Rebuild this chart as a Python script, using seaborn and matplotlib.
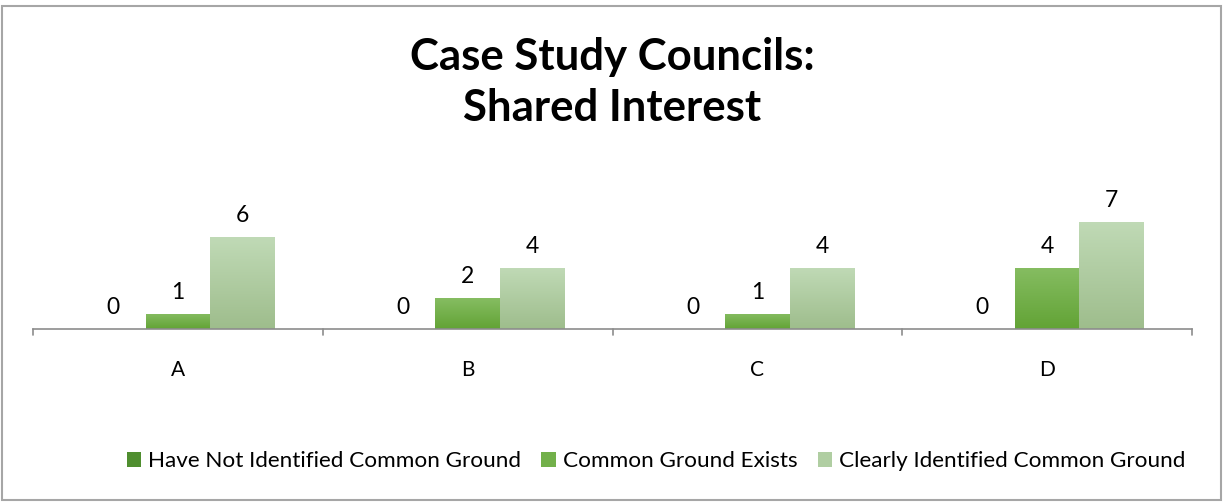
import numpy as np
import pandas as pd
import matplotlib
matplotlib.use("Agg")
import matplotlib.pyplot as plt
import seaborn as sns
from matplotlib.patches import Rectangle
from matplotlib.colors import LinearSegmentedColormap

councils = ["A", "B", "C", "D"]
series_names = ["Have Not Identified Common Ground", "Common Ground Exists", "Clearly Identified Common Ground"]
not_identified = [0, 0, 0, 0]
exists = [1, 2, 1, 4]
clearly = [6, 4, 4, 7]

sns.set_theme(style="white")
plt.rcParams['font.family'] = ['Lato', 'DejaVu Sans']
plt.rcParams['text.color'] = 'black'
plt.rcParams['xtick.color'] = 'black'

df = pd.DataFrame({
    "Council": councils * 3,
    "Series": [series_names[0]] * 4 + [series_names[1]] * 4 + [series_names[2]] * 4,
    "Value": not_identified + exists + clearly,
})

top_cols = ["#5a9a36", "#86bd62", "#c0dab6"]
bot_cols = ["#4a862a", "#62a335", "#9ebd8c"]
mid_cols = ["#4f8e2f", "#72b04a", "#b0cea2"]

fig = plt.figure(figsize=(12.25, 5.03), dpi=100)
ax = fig.add_axes([33/1225, 1 - 329/503, (1192-33)/1225, (329-206.6)/503])

sns.barplot(data=df, x="Council", y="Value", hue="Series", hue_order=series_names,
            palette=mid_cols, width=0.67, gap=0, ax=ax, legend=False, errorbar=None)

ax.set_ylim(0, 8)
ax.set_xlim(-0.5, 3.5)

for ci, cont in enumerate(ax.containers):
    cmap = LinearSegmentedColormap.from_list(f"g{ci}", [bot_cols[ci], top_cols[ci]])
    grad = np.linspace(0, 1, 256).reshape(-1, 1)
    for p in cont.patches:
        x0, y0 = p.get_x(), p.get_y()
        w, h = p.get_width(), p.get_height()
        if h <= 0:
            continue
        p.set_facecolor("none")
        p.set_edgecolor("none")
        im = ax.imshow(grad, cmap=cmap, origin="lower", aspect="auto",
                       extent=[x0, x0 + w, y0, y0 + h], zorder=2)
        im.set_clip_path(p)
    ax.bar_label(cont, labels=[str(int(v)) for v in cont.datavalues], padding=8,
                 fontsize=16.5, color="black", clip_on=False)

ax.set_ylim(0, 8)
ax.set_xlim(-0.5, 3.5)
ax.set_xlabel("")
ax.set_ylabel("")
ax.set_yticks([])
for s in ["top", "right", "left"]:
    ax.spines[s].set_visible(False)
ax.spines["bottom"].set_color("#8c8c8c")
ax.spines["bottom"].set_linewidth(1.2)
ax.set_xticks([0, 1, 2, 3])
ax.set_xticklabels(councils, fontsize=15)
ax.tick_params(axis="x", length=0, pad=22, colors="black")
for xb in [-0.5, 0.5, 1.5, 2.5, 3.5]:
    ax.plot([xb, xb], [0, -0.38], color="#8c8c8c", lw=1.2, clip_on=False)

handles = [Rectangle((0, 0), 1, 1, facecolor=c, edgecolor="none") for c in mid_cols]
fig.legend(handles, series_names, loc="center", bbox_to_anchor=(656/1225, 1 - 461/503),
           ncol=3, frameon=False, fontsize=16.2, handlelength=0.65, handleheight=0.65,
           handletextpad=0.3, columnspacing=0.9, labelcolor="black")

fig.text(612/1225, 1 - 57/503, "Case Study Councils:", ha="center", va="center",
         fontsize=31.5, fontweight="bold", color="black")
fig.text(612/1225, 1 - 108/503, "Shared Interest", ha="center", va="center",
         fontsize=31.5, fontweight="bold", color="black")

fig.patches.append(Rectangle((1.5/1225, 1 - 500/503), 1219/1225, 494/503,
                             transform=fig.transFigure, fill=False,
                             edgecolor="#a6a6a6", lw=1.5))

fig.savefig("out.png", dpi=100)
